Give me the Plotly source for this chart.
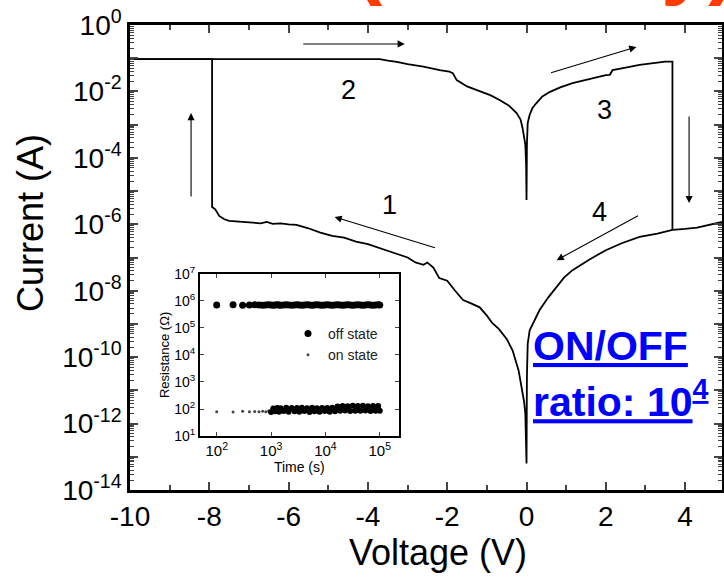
import plotly.graph_objects as go

# ---------------- data ----------------
# Sweep A: branch 4 (+4.93 V -> 0 V), branch 1 (0 -> -7.93 V), SET jump, continue to -10 V
volt_a = [4.93, 4.6, 4.3, 4.0, 3.68, 3.3, 2.85, 2.4, 2.0, 1.6, 1.16, 0.95, 0.76, 0.55,
          0.33, 0.2, 0.08, 0.03, 0.01, 0.0,
          -0.01, -0.03, -0.06, -0.1, -0.2, -0.35, -0.5, -0.7, -0.86, -1.0, -1.18, -1.4,
          -1.6, -1.8, -2.0, -2.2, -2.35, -2.5, -2.6, -2.8, -3.0, -3.3, -3.5, -3.7, -4.0,
          -4.3, -4.6, -4.9, -5.2, -5.5, -5.8, -6.0, -6.2, -6.4, -6.55, -6.7, -7.0, -7.3,
          -7.5, -7.62, -7.75, -7.85, -7.93, -7.93, -10.0]
log_current_a = [-5.93, -6.02, -6.1, -6.14, -6.17, -6.28, -6.38, -6.57, -6.78, -7.05, -7.38,
                 -7.6, -7.89, -8.2, -8.58, -8.9, -9.19, -9.6, -10.6, -13.2,
                 -12.3, -11.7, -11.35, -11.08, -10.4, -9.8, -9.45, -9.15, -8.98, -8.75, -8.5,
                 -8.38, -8.28, -8.0, -7.7, -7.62, -7.3, -7.15, -7.22, -7.15, -7.0, -6.88,
                 -6.8, -6.72, -6.6, -6.52, -6.4, -6.35, -6.25, -6.12, -6.02, -6.0, -5.97,
                 -5.99, -5.93, -5.97, -5.95, -5.92, -5.9, -5.85, -5.75, -5.55, -5.48,
                 -1.03, -1.03]

# Sweep B: branch 2 (-10 V -> 0 V), branch 3 (0 -> 3.68 V), RESET drop
volt_b = [-10.0, -3.7, -3.5, -3.27, -3.0, -2.6, -2.19, -1.95, -1.86, -1.76, -1.5, -1.18,
          -0.9, -0.68, -0.45, -0.25, -0.15, -0.1, -0.05, -0.03, -0.01, 0.0,
          0.01, 0.03, 0.08, 0.15, 0.25, 0.4, 0.58, 0.85, 1.16, 1.5, 1.8, 2.0, 2.1, 2.17,
          2.5, 2.85, 3.2, 3.5, 3.68, 3.68]
log_current_b = [-1.03, -1.03, -1.07, -1.11, -1.18, -1.25, -1.36, -1.4, -1.45, -1.66, -1.85,
                 -2.0, -2.12, -2.26, -2.42, -2.65, -2.85, -3.1, -3.4, -3.6, -4.2, -5.27,
                 -3.6, -2.95, -2.7, -2.5, -2.35, -2.15, -2.02, -1.88, -1.75, -1.65, -1.57,
                 -1.51, -1.5, -1.36, -1.28, -1.2, -1.15, -1.1, -1.1, -6.17]

# Inset: retention test
time_s = [100, 200, 300, 400, 500, 600, 700, 800, 900, 1000, 1100, 1200, 1300, 1400, 1500,
          1700, 1900, 2100, 2400, 2700, 3000, 3300, 3700, 4100, 4600, 5100, 5700, 6300,
          7000, 7800, 8700, 9700, 10800, 12000, 13400, 15000, 16700, 18600, 20700, 23100,
          25700, 28600, 31900, 35500, 39500, 44000, 49000, 54600, 60800, 67700, 75400,
          84000, 93500, 100000]
off_state_ohm = [7.0e5, 7.1e5, 6.9e5, 7.0e5, 7.1e5, 7.0e5, 6.9e5, 7.0e5, 7.1e5, 7.0e5,
                 6.9e5, 7.0e5, 7.1e5, 7.0e5, 6.9e5, 7.0e5, 7.1e5, 7.0e5, 6.9e5, 7.0e5,
                 7.1e5, 7.0e5, 6.9e5, 7.0e5, 7.1e5, 7.0e5, 6.9e5, 7.0e5, 7.1e5, 7.0e5,
                 6.9e5, 7.0e5, 7.1e5, 7.0e5, 6.9e5, 7.0e5, 7.1e5, 7.0e5, 6.9e5, 7.0e5,
                 7.1e5, 7.0e5, 6.9e5, 7.0e5, 7.1e5, 7.0e5, 6.9e5, 7.0e5, 7.1e5, 7.0e5,
                 6.9e5, 7.0e5, 7.1e5, 7.0e5]
on_state_ohm = [80, 78, 82, 79, 81, 80, 83, 79, 85, 78, 105, 82, 110, 80, 106, 84, 112, 79,
                108, 83, 110, 80, 112, 85, 107, 78, 111, 82, 106, 80, 110, 84, 108, 79,
                112, 83, 125, 86, 130, 88, 127, 85, 132, 87, 128, 86, 131, 88, 126, 85,
                130, 87, 128, 86]

x_ticks = [-10, -8, -6, -4, -2, 0, 2, 4]
x_tick_labels = ["-10", "-8", "-6", "-4", "-2", "0", "2", "4"]
y_exponents = list(range(-14, 1))
inset_x_exponents = [2, 3, 4, 5]
inset_y_exponents = [1, 2, 3, 4, 5, 6, 7]

# ---------------- figure ----------------
FONT = "Liberation Sans, Arial, sans-serif"
current_a = [10 ** v for v in log_current_a]
current_b = [10 ** v for v in log_current_b]
sparse = [i for i, t in enumerate(time_s) if t < 1000]
dense = [i for i, t in enumerate(time_s) if t >= 1000]

fig = go.Figure()
fig.add_trace(go.Scatter(x=volt_a, y=current_a, mode="lines",
                         line=dict(color="black", width=1.8), showlegend=False))
fig.add_trace(go.Scatter(x=volt_b, y=current_b, mode="lines",
                         line=dict(color="black", width=1.8), showlegend=False))
fig.add_trace(go.Scatter(x=time_s, y=off_state_ohm, mode="markers", name="off state",
                         marker=dict(color="black", size=7, opacity=1, line=dict(width=0)),
                         xaxis="x2", yaxis="y2"))
fig.add_trace(go.Scatter(x=[time_s[i] for i in sparse], y=[on_state_ohm[i] for i in sparse],
                         mode="markers", name="on state", legendgroup="on",
                         marker=dict(color="#444", size=3, opacity=1, line=dict(width=0)),
                         xaxis="x2", yaxis="y2"))
fig.add_trace(go.Scatter(x=[time_s[i] for i in dense], y=[on_state_ohm[i] for i in dense],
                         mode="markers", name="on state", legendgroup="on", showlegend=False,
                         marker=dict(color="black", size=6, opacity=1, line=dict(width=0)),
                         xaxis="x2", yaxis="y2"))

y_text = ["10<sup>%d</sup>" % e if e % 2 == 0 else "" for e in y_exponents]

fig.update_layout(
    width=724, height=577,
    margin=dict(l=130, r=2, t=25, b=87),
    paper_bgcolor="white", plot_bgcolor="white",
    font=dict(family=FONT, color="black"),
    xaxis=dict(range=[-10, 4.93], tickmode="array", tickvals=x_ticks, ticktext=x_tick_labels,
               ticks="inside", ticklen=8, tickwidth=2, showline=True, linewidth=2.5,
               linecolor="black", mirror="allticks", showgrid=False, zeroline=False,
               automargin=False, tickfont=dict(size=28, family=FONT),
               minor=dict(dtick=1, tick0=-10, ticks="inside", ticklen=5, tickwidth=1.5)),
    yaxis=dict(type="log", range=[-14, 0], tickmode="array",
               tickvals=[10.0 ** e for e in y_exponents], ticktext=y_text,
               ticks="inside", ticklen=8, tickwidth=2, showline=True, linewidth=2.5,
               linecolor="black", mirror="allticks", showgrid=False, zeroline=False,
               automargin=False, tickfont=dict(size=28, family=FONT),
               minor=dict(dtick="D1", ticks="inside", ticklen=4, tickwidth=1)),
    xaxis2=dict(type="log", range=[1.69, 5.35], domain=[0.118, 0.454], anchor="y2",
                tickmode="array", tickvals=[10.0 ** e for e in inset_x_exponents],
                ticktext=["10<sup>%d</sup>" % e for e in inset_x_exponents],
                ticks="inside", ticklen=4, showline=True, linewidth=1.5, linecolor="black",
                mirror="allticks", showgrid=False, zeroline=False, automargin=False,
                tickfont=dict(size=15, family=FONT), ticklabelstandoff=0,
                title=dict(text="Time (s)", font=dict(size=14, family=FONT), standoff=2)),
    yaxis2=dict(type="log", range=[1, 7], domain=[0.116, 0.465], anchor="x2",
                tickmode="array", tickvals=[10.0 ** e for e in inset_y_exponents],
                ticktext=["10<sup>%d</sup>" % e for e in inset_y_exponents],
                ticks="inside", ticklen=4, showline=True, linewidth=1.5, linecolor="black",
                mirror="allticks", showgrid=False, zeroline=False, automargin=False,
                tickfont=dict(size=14, family=FONT),
                title=dict(text="Resistance (Ω)", font=dict(size=13, family=FONT), standoff=2)),
    legend=dict(x=(288 - 130) / 592, y=(490 - 318) / 465, xanchor="left", yanchor="top",
                bgcolor="rgba(0,0,0,0)", font=dict(size=14, family=FONT, color="#222"),
                itemwidth=30, tracegroupgap=0),
)

annotations = []
# Axis titles
annotations.append(dict(text="Current (A)", xref="paper", yref="paper",
                        x=(30 - 130) / 592, y=(490 - 223) / 465, textangle=-90,
                        showarrow=False, font=dict(size=36, family=FONT),
                        xanchor="center", yanchor="middle"))
annotations.append(dict(text="Voltage (V)", xref="paper", yref="paper",
                        x=(438 - 130) / 592, y=-(552 - 490) / 465, showarrow=False,
                        font=dict(size=36, family=FONT), xanchor="center", yanchor="middle"))
# Branch numbers
for label, vx, ly in [("1", -3.45, -5.42), ("2", -4.5, -1.96), ("3", 1.96, -2.56),
                      ("4", 1.84, -5.63)]:
    annotations.append(dict(text=label, x=vx, y=ly, xref="x", yref="y", showarrow=False,
                            font=dict(size=27, family=FONT)))
# Sweep-direction arrows (head, tail)
for (hx, hy), (tx, ty) in [((-4.84, -5.78), (-2.27, -6.72)),
                           ((-3.07, -0.57), (-5.67, -0.57)),
                           ((-8.46, -2.65), (-8.46, -5.21)),
                           ((2.77, -0.66), (0.58, -1.45)),
                           ((4.1, -5.36), (4.1, -2.71)),
                           ((0.76, -7.08), (2.85, -5.72))]:
    annotations.append(dict(x=hx, y=hy, ax=tx, ay=ty, xref="x", yref="y", axref="x",
                            ayref="y", showarrow=True, arrowhead=2, arrowsize=1.3,
                            arrowwidth=1.1, arrowcolor="black", text=""))
# ON/OFF ratio text
annotations.append(dict(text="<b>ON/OFF</b>", xref="paper", yref="paper",
                        x=(531 - 130) / 592, y=(490 - 346) / 465, xanchor="left",
                        yanchor="middle", showarrow=False,
                        font=dict(size=41, family=FONT, color="#0000FF", lineposition="under")))
annotations.append(dict(text="<b>ratio: 10<sup>4</sup></b>", xref="paper", yref="paper",
                        x=(531 - 130) / 592, y=(490 - 399) / 465, xanchor="left",
                        yanchor="middle", showarrow=False,
                        font=dict(size=41, family=FONT, color="#0000FF", lineposition="under")))
# Cropped slide title at the very top (only its descenders show)
annotations.append(dict(text="<b>(Memory)</b>", xref="paper", yref="paper",
                        x=(545 - 130) / 592, y=1 + 67 / 465, xanchor="center",
                        yanchor="middle", showarrow=False,
                        font=dict(size=85, family=FONT, color="#FF3C00")))
fig.update_layout(annotations=annotations)

fig.write_html("out.html", config={"displayModeBar": False},
               post_script="document.body.style.margin='0px';")
